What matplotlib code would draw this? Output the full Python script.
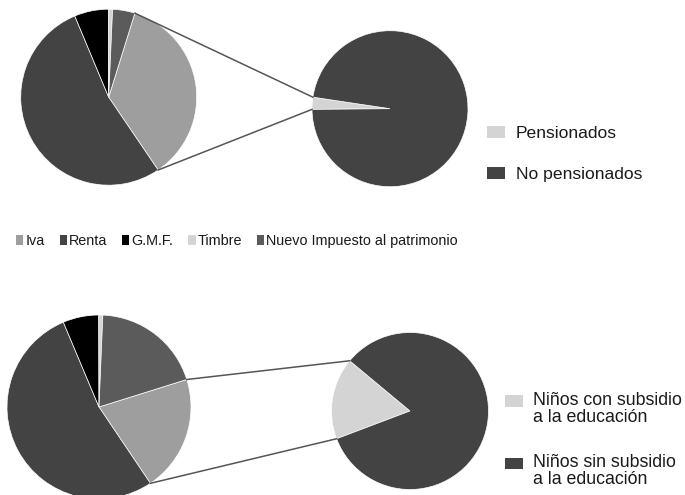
import numpy as np
import matplotlib
matplotlib.use("Agg")
import matplotlib.pyplot as plt
from matplotlib.patches import Patch, Rectangle
from matplotlib.legend_handler import HandlerPatch

# ==========================================
# 数据
# ==========================================
tax_labels = ['Iva', 'Renta', 'G.M.F.', 'Timbre', 'Nuevo Impuesto al patrimonio']
taxes_top = [35.7, 53.2, 6.3, 0.7, 4.1]
taxes_bottom = [20.4, 53.1, 6.3, 0.7, 19.5]

pension_labels = ['Pensionados', 'No pensionados']
pension_share = [2.5, 97.5]

school_labels = ['Niños con subsidio\na la educación', 'Niños sin subsidio\na la educación']
school_share = [16.8, 83.2]

# ==========================================
# 样式
# ==========================================
TAX_COLORS = ['#9e9e9e', '#434343', '#000000', '#d4d4d4', '#5b5b5b']
SUB_COLORS = ['#d4d4d4', '#434343']
LINE_COLOR = '#555555'
TEXT_COLOR = '#1a1a1a'
W, H = 685, 495

plt.rcParams['font.family'] = ['Liberation Sans', 'DejaVu Sans']
plt.rcParams['text.color'] = TEXT_COLOR


def pie_of_pie(ax, main_vals, sub_vals, main_c, main_r, main_start, sub_c, sub_r, sub_start):
    """主饼 + 子饼，主饼第一块与子饼第一块用两条线连接"""
    wp = dict(edgecolor='white', linewidth=0.5)
    w_main, _ = ax.pie(main_vals, colors=TAX_COLORS, center=main_c, radius=main_r,
                       startangle=main_start, counterclock=False, wedgeprops=wp)
    w_sub, _ = ax.pie(sub_vals, colors=SUB_COLORS, center=sub_c, radius=sub_r,
                      startangle=sub_start, counterclock=False, wedgeprops=wp)
    src, dst = w_main[0], w_sub[0]
    for a_src, a_dst in ((src.theta2, dst.theta1), (src.theta1, dst.theta2)):
        x0 = main_c[0] + main_r * np.cos(np.radians(a_src))
        y0 = main_c[1] + main_r * np.sin(np.radians(a_src))
        x1 = sub_c[0] + sub_r * np.cos(np.radians(a_dst))
        y1 = sub_c[1] + sub_r * np.sin(np.radians(a_dst))
        ax.plot([x0, x1], [y0, y1], color=LINE_COLOR, lw=1.1, zorder=5)


def raised_square(legend, orig_handle, xdescent, ydescent, width, height, fontsize):
    # 两行标签时色块对齐第一行
    return Rectangle((-xdescent, -ydescent + 0.45 * fontsize), width, height)


fig = plt.figure(figsize=(W / 100, H / 100), dpi=100)
ax = fig.add_axes([0, 0, 1, 1])

pie_of_pie(ax, taxes_top, pension_share, (108.7, 397.8), 88, 72.7, (390, 386.3), 78, 180.5)
pie_of_pie(ax, taxes_bottom, school_share, (99, 88), 92, 17.4, (410, 84), 78.5, 200.7)

ax.set_aspect('equal', adjustable='box')
ax.set_xlim(0, W)
ax.set_ylim(0, H)
ax.axis('off')

# 中间图例
tax_handles = [Patch(facecolor=c, edgecolor='none') for c in TAX_COLORS]
leg_mid = ax.legend(tax_handles, tax_labels, ncol=5, loc='center left',
                    bbox_to_anchor=(16 / W, (H - 241) / H), frameon=False,
                    fontsize=10.4, handlelength=0.5, handleheight=0.62,
                    handletextpad=0.15, columnspacing=1.03,
                    borderpad=0, borderaxespad=0)
ax.add_artist(leg_mid)

# 右上图例
pen_handles = [Patch(facecolor=c, edgecolor='none') for c in SUB_COLORS]
leg_top = ax.legend(pen_handles, pension_labels, loc='center left',
                    bbox_to_anchor=(487 / W, (H - 154) / H), frameon=False,
                    fontsize=12.6, handlelength=1.05, handleheight=0.7,
                    handletextpad=0.6, labelspacing=1.45,
                    borderpad=0, borderaxespad=0)
ax.add_artist(leg_top)

# 右下图例
sch_handles = [Patch(facecolor=c, edgecolor='none') for c in SUB_COLORS]
leg_bot = ax.legend(sch_handles, school_labels, loc='center left',
                    bbox_to_anchor=(505 / W, (H - 440) / H), frameon=False,
                    fontsize=12.8, handlelength=1.0, handleheight=0.6,
                    handletextpad=0.56, labelspacing=1.6,
                    borderpad=0, borderaxespad=0,
                    handler_map={Patch: HandlerPatch(patch_func=raised_square)})
for t in leg_bot.get_texts():
    t.set_linespacing(1.02)

fig.savefig('out.png', dpi=100)
